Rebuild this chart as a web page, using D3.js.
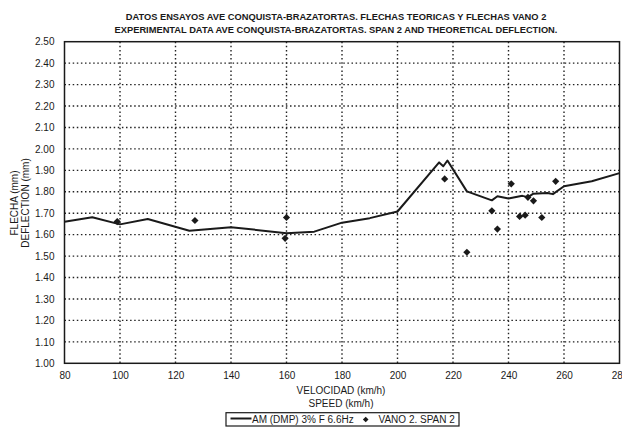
<!DOCTYPE html>
<html>
<head>
<meta charset="utf-8">
<script src="https://cdn.jsdelivr.net/npm/d3@7"></script>
<style>
  html, body { margin: 0; padding: 0; background: #fff; }
  svg { display: block; font-family: "Liberation Sans", Arial, sans-serif; }
</style>
</head>
<body>
<svg id="chart" width="622" height="428"></svg>
<script>
// Theoretical deflection curve: speed (km/h) and deflection (mm)
const lineSpeeds = [80, 90, 100, 110, 125, 140, 160, 170, 180, 190, 200, 215, 216.5, 218, 225, 234, 236, 240, 245, 247, 249, 254, 256, 260, 270, 280];
const lineValues = [1.660, 1.681, 1.648, 1.673, 1.618, 1.635, 1.607, 1.614, 1.656, 1.677, 1.708, 1.937, 1.919, 1.946, 1.802, 1.760, 1.779, 1.769, 1.781, 1.775, 1.791, 1.794, 1.789, 1.826, 1.849, 1.887];

// Measured deflections, span 2
const pointSpeeds = [99, 127, 159.5, 160, 217, 225, 234, 236, 241, 244, 246, 247, 249, 252, 257];
const pointValues = [1.661, 1.666, 1.583, 1.680, 1.860, 1.518, 1.711, 1.626, 1.837, 1.685, 1.691, 1.774, 1.758, 1.680, 1.849];

const xTicks = [80, 100, 120, 140, 160, 180, 200, 220, 240, 260, 280];
const yTicks = [1.00, 1.10, 1.20, 1.30, 1.40, 1.50, 1.60, 1.70, 1.80, 1.90, 2.00, 2.10, 2.20, 2.30, 2.40, 2.50];

const titleLines = [
  "DATOS ENSAYOS AVE CONQUISTA-BRAZATORTAS. FLECHAS TEORICAS Y FLECHAS VANO 2",
  "EXPERIMENTAL DATA AVE CONQUISTA-BRAZATORTAS. SPAN 2 AND THEORETICAL DEFLECTION."
];
const yTitleLines = ["FLECHA (mm)", "DEFLECTION (mm)"];
const xTitleLines = ["VELOCIDAD (km/h)", "SPEED (km/h)"];
const legendLabels = ["AM (DMP) 3% F 6.6Hz", "VANO 2. SPAN 2"];

const svg = d3.select("#chart");
const plot = { left: 64.5, right: 619.5, top: 41.7, bottom: 363.3 };

const x = d3.scaleLinear().domain([80, 280]).range([plot.left, plot.right]);
const y = d3.scaleLinear().domain([1.0, 2.5]).range([plot.bottom, plot.top]);

const ink = "#1a1a1a";

// Title
svg.append("g").selectAll("text").data(titleLines).join("text")
  .attr("x", 336).attr("y", (d, i) => 19.5 + i * 13.5)
  .attr("text-anchor", "middle")
  .attr("font-size", 9.3).attr("font-weight", "bold").attr("fill", ink)
  .text(d => d);

// Dotted grid
const grid = svg.append("g");
grid.selectAll("line.h").data(yTicks.slice(1, -1)).join("line")
  .attr("class", "h")
  .attr("x1", plot.left).attr("x2", plot.right)
  .attr("y1", d => y(d)).attr("y2", d => y(d))
  .attr("stroke", "#222").attr("stroke-width", 1.4).attr("stroke-dasharray", "1.5,2.6");
grid.selectAll("line.v").data(xTicks.slice(1, -1)).join("line")
  .attr("class", "v")
  .attr("y1", plot.top).attr("y2", plot.bottom)
  .attr("x1", d => x(d)).attr("x2", d => x(d))
  .attr("stroke", "#222").attr("stroke-width", 1.4).attr("stroke-dasharray", "1.5,2.6");

// Axes (labels only; the frame is drawn separately)
const yAxis = d3.axisLeft(y).tickValues(yTicks).tickFormat(d3.format(".2f")).tickSize(0).tickPadding(10);
svg.append("g").attr("transform", `translate(${plot.left},0)`).call(yAxis)
  .call(g => g.select(".domain").remove())
  .call(g => g.selectAll("text").attr("font-size", 10).attr("fill", ink).attr("font-family", null));

const xAxis = d3.axisBottom(x).tickValues(xTicks).tickFormat(d3.format("d")).tickSize(0).tickPadding(9);
svg.append("g").attr("transform", `translate(0,${plot.bottom})`).call(xAxis)
  .call(g => g.select(".domain").remove())
  .call(g => g.selectAll("text").attr("font-size", 10).attr("fill", ink).attr("font-family", null));

// Plot frame
svg.append("rect")
  .attr("x", plot.left).attr("y", plot.top)
  .attr("width", plot.right - plot.left).attr("height", plot.bottom - plot.top)
  .attr("fill", "none").attr("stroke", ink).attr("stroke-width", 1.5);

// Axis titles
svg.append("g").selectAll("text").data(yTitleLines).join("text")
  .attr("transform", (d, i) => `translate(${18 + i * 11},203) rotate(-90)`)
  .attr("text-anchor", "middle")
  .attr("font-size", 10).attr("fill", ink)
  .text(d => d);

svg.append("g").selectAll("text").data(xTitleLines).join("text")
  .attr("x", 341).attr("y", (d, i) => 394 + i * 13)
  .attr("text-anchor", "middle")
  .attr("font-size", 10).attr("fill", ink)
  .text(d => d);

// Theoretical curve
const line = d3.line().x(d => x(d[0])).y(d => y(d[1]));
svg.append("path")
  .datum(lineSpeeds.map((s, i) => [s, lineValues[i]]))
  .attr("d", line)
  .attr("fill", "none").attr("stroke", ink).attr("stroke-width", 2)
  .attr("stroke-linejoin", "round");

// Measured points (squares turned 45 degrees)
const diamond = d3.symbol().type(d3.symbolSquare).size(26);
svg.append("g").selectAll("path").data(pointSpeeds.map((s, i) => [s, pointValues[i]])).join("path")
  .attr("transform", d => `translate(${x(d[0])},${y(d[1])}) rotate(45)`)
  .attr("d", diamond)
  .attr("fill", ink);

// Legend
const legend = svg.append("g");
legend.append("rect")
  .attr("x", 226).attr("y", 412.7).attr("width", 233).attr("height", 13.3)
  .attr("fill", "#fff").attr("stroke", ink).attr("stroke-width", 1.2);
legend.append("line")
  .attr("x1", 230.5).attr("x2", 251.5).attr("y1", 418.5).attr("y2", 418.5)
  .attr("stroke", ink).attr("stroke-width", 2);
legend.append("text")
  .attr("x", 252).attr("y", 423)
  .attr("font-size", 10).attr("fill", ink)
  .text(legendLabels[0]);
legend.append("path")
  .attr("transform", "translate(365.7,419.5) rotate(45)")
  .attr("d", d3.symbol().type(d3.symbolSquare).size(16)())
  .attr("fill", ink);
legend.append("text")
  .attr("x", 378.5).attr("y", 423)
  .attr("font-size", 10).attr("fill", ink)
  .text(legendLabels[1]);
</script>
</body>
</html>
